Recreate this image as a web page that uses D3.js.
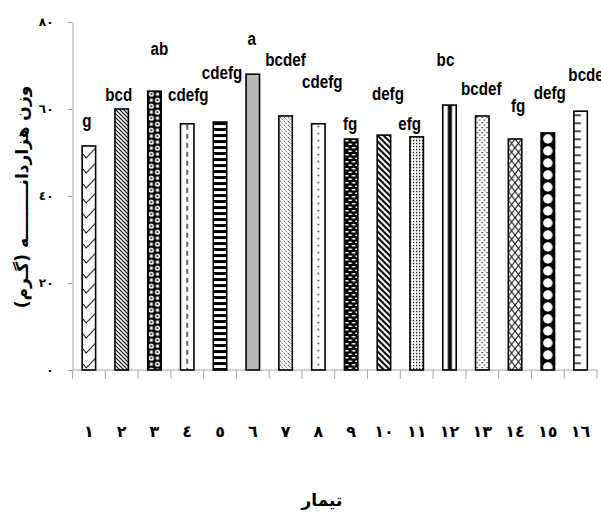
<!DOCTYPE html>
<html>
<head>
<meta charset="utf-8">
<script src="https://cdn.jsdelivr.net/npm/d3@7.9.0/dist/d3.min.js"></script>
<style>
  body { margin: 0; background: #fff; }
  svg { display: block; }
</style>
</head>
<body>
<svg id="chart" width="601" height="516"></svg>
<script>
// treatments (Persian digits), 1000-grain weight and Duncan groups
const treatments = ['١', '٢', '٣', '٤', '٥', '٦', '٧', '٨', '٩', '١٠', '١١', '١٢', '١٣', '١٤', '١٥', '١٦'];
const weights = [51.5, 60.0, 64.1, 56.6, 57.0, 68.0, 58.4, 56.6, 53.1, 54.0, 53.6, 60.9, 58.4, 53.1, 54.5, 59.5];
const groups = ['g', 'bcd', 'ab', 'cdefg', 'cdefg', 'a', 'bcdef', 'cdefg', 'fg', 'defg', 'efg', 'bc', 'bcdef', 'fg', 'defg', 'bcdef'];
const yTicks = [0, 20, 40, 60, 80];
const yTickLabels = ['٠', '٢٠', '٤٠', '٦٠', '٨٠'];

// the letters were placed by hand in the original, so nudge them (px)
const labelDx = [-2, -3, 5, 1, 2, -1, 0, 4, -1, 4, -7, -4, -1, 3, 2, 8];
const labelDy = [-19, -8, -36, -23, -43, -29, -50, -36, -9, -35, -7, -39, -21, -27, -34, -30];

const svg = d3.select('#chart');
const x = d3.scaleBand().domain(treatments).range([72.5, 597]);
const y = d3.scaleLinear().domain([0, 80]).range([370, 22]);
const barW = x.bandwidth() * 0.41;
const barX = d => x(d) + (x.bandwidth() - barW) / 2;

const defs = svg.append('defs');

// one fill pattern per bar, roughly like the old Excel pattern fills
const patternFns = [
  (p, w) => { p.attr('width', w).attr('height', 15);
    p.append('path').attr('d', `M1,8 L4,12 L${w},2`).attr('stroke', '#000').attr('stroke-width', 1).attr('fill', 'none'); },
  (p) => { p.attr('width', 4).attr('height', 4);
    p.append('path').attr('d', 'M-1,-1 L5,5 M-1,3 L1,5 M3,-1 L5,1').attr('stroke', '#000').attr('stroke-width', 1.1); },
  (p, w) => { p.attr('width', w).attr('height', 12);
    p.append('rect').attr('width', w).attr('height', 12).attr('fill', '#000');
    [[w * 0.27, 3], [w * 0.73, 9]].forEach(([cx, cy]) => {
      p.append('circle').attr('cx', cx).attr('cy', cy).attr('r', 2.6).attr('fill', '#fff');
      p.append('circle').attr('cx', cx).attr('cy', cy).attr('r', 1).attr('fill', '#000');
    });
    [[w * 0.73, 3], [w * 0.27, 9]].forEach(([cx, cy]) => {
      p.append('rect').attr('x', cx - 1.5).attr('y', cy - 1.5).attr('width', 3).attr('height', 3).attr('fill', '#fff');
    }); },
  (p, w) => { p.attr('width', w).attr('height', 9);
    p.append('rect').attr('x', w / 2 - 0.6).attr('y', 1).attr('width', 1.2).attr('height', 5).attr('fill', '#000'); },
  (p, w) => { p.attr('width', w).attr('height', 6);
    p.append('rect').attr('y', 0).attr('width', w).attr('height', 3).attr('fill', '#000'); },
  (p, w) => { p.attr('width', w).attr('height', 10);
    p.append('rect').attr('width', w).attr('height', 10).attr('fill', '#b9b9b9'); },
  (p) => { p.attr('width', 4).attr('height', 4);
    p.append('path').attr('d', 'M-1,-1 L5,5 M-1,3 L1,5 M3,-1 L5,1').attr('stroke', '#222').attr('stroke-width', 1).attr('stroke-dasharray', '1.5,1'); },
  (p, w) => { p.attr('width', w).attr('height', 7);
    p.append('rect').attr('x', w / 2 - 0.7).attr('y', 2).attr('width', 1.4).attr('height', 1.4).attr('fill', '#000'); },
  (p) => { p.attr('width', 7).attr('height', 7);
    p.append('rect').attr('width', 7).attr('height', 7).attr('fill', '#000');
    p.append('rect').attr('x', 0.5).attr('y', 1).attr('width', 3.5).attr('height', 1.5).attr('fill', '#fff');
    p.append('rect').attr('x', 4).attr('y', 4.5).attr('width', 3.5).attr('height', 1.5).attr('fill', '#fff');
    p.append('rect').attr('x', -3).attr('y', 4.5).attr('width', 3.5).attr('height', 1.5).attr('fill', '#fff'); },
  (p) => { p.attr('width', 6).attr('height', 6);
    p.append('path').attr('d', 'M-1,-1 L7,7 M-1,5 L1,7 M5,-1 L7,1').attr('stroke', '#000').attr('stroke-width', 2); },
  (p) => { p.attr('width', 3).attr('height', 3);
    p.append('rect').attr('width', 1.3).attr('height', 1.3).attr('fill', '#000'); },
  (p, w) => { p.attr('width', w).attr('height', 10);
    p.append('rect').attr('x', w * 0.38).attr('width', 4).attr('height', 10).attr('fill', '#000'); },
  (p) => { p.attr('width', 5).attr('height', 5);
    p.append('rect').attr('x', 1).attr('y', 1).attr('width', 1.2).attr('height', 1.2).attr('fill', '#000');
    p.append('rect').attr('x', 3.5).attr('y', 3.5).attr('width', 1.2).attr('height', 1.2).attr('fill', '#000'); },
  (p, w) => { const h = w / 2 * 1.3; p.attr('width', w / 2).attr('height', h);
    p.append('path').attr('d', `M0,0 L${w / 2},${h} M${w / 2},0 L0,${h}`).attr('stroke', '#000').attr('stroke-width', 1); },
  (p, w) => { p.attr('width', w).attr('height', 12);
    p.append('rect').attr('width', w).attr('height', 12).attr('fill', '#000');
    p.append('circle').attr('cx', w / 2).attr('cy', 6).attr('r', w / 2 - 2).attr('fill', '#fff'); },
  (p, w) => { p.attr('width', w).attr('height', 8);
    p.append('rect').attr('y', 3.4).attr('width', 7).attr('height', 1.3).attr('fill', '#000'); }
];

treatments.forEach((t, i) => {
  const p = defs.append('pattern')
    .attr('id', 'pat' + i)
    .attr('patternUnits', 'userSpaceOnUse')
    .attr('x', barX(t))
    .attr('y', y(weights[i]));
  patternFns[i](p, barW);
});

// y axis
const yAxis = svg.append('g')
  .attr('transform', 'translate(72.5,0)')
  .call(d3.axisLeft(y).tickValues(yTicks).tickSize(5).tickSizeOuter(0)
    .tickFormat((d, i) => yTickLabels[i]));
yAxis.select('.domain').attr('stroke', '#a8a8a8');
yAxis.selectAll('.tick line').attr('stroke', '#a8a8a8');
yAxis.selectAll('.tick text')
  .attr('x', -19)
  .attr('font-family', 'DejaVu Sans')
  .attr('font-weight', 'bold')
  .attr('font-size', 12)
  .attr('fill', '#000');

// category axis: baseline and ticks between categories
const [x0, x1] = x.range();
svg.append('line')
  .attr('x1', x0).attr('x2', x1)
  .attr('y1', y(0)).attr('y2', y(0))
  .attr('stroke', '#a8a8a8');
svg.append('g').selectAll('line')
  .data(treatments.map(t => x(t)).concat([x1]))
  .enter().append('line')
  .attr('x1', d => d).attr('x2', d => d)
  .attr('y1', y(0)).attr('y2', y(0) + 9)
  .attr('stroke', '#a8a8a8');

// bars
svg.append('g').selectAll('rect')
  .data(treatments)
  .enter().append('rect')
  .attr('x', d => barX(d))
  .attr('y', (d, i) => y(weights[i]))
  .attr('width', barW)
  .attr('height', (d, i) => y(0) - y(weights[i]))
  .attr('fill', (d, i) => `url(#pat${i})`)
  .attr('stroke', '#000')
  .attr('stroke-width', 1.6);

// group letters (condensed bold, like Arial Narrow)
svg.append('g').selectAll('text')
  .data(treatments)
  .enter().append('text')
  .attr('transform', (d, i) =>
    `translate(${x(d) + x.bandwidth() / 2 + labelDx[i]},${y(weights[i]) + labelDy[i]}) scale(0.8,1)`)
  .attr('text-anchor', 'middle')
  .attr('font-family', 'Liberation Sans, Arial, sans-serif')
  .attr('font-weight', 'bold')
  .attr('font-size', 19)
  .text((d, i) => groups[i]);

// treatment numbers
svg.append('g').selectAll('text')
  .data(treatments)
  .enter().append('text')
  .attr('x', d => x(d) + x.bandwidth() / 2)
  .attr('y', 437)
  .attr('text-anchor', 'middle')
  .attr('font-family', 'DejaVu Sans')
  .attr('font-weight', 'bold')
  .attr('font-size', 16)
  .text(d => d);

// axis titles
svg.append('text')
  .attr('x', 322).attr('y', 506)
  .attr('text-anchor', 'middle')
  .attr('direction', 'rtl')
  .attr('font-family', 'DejaVu Sans')
  .attr('font-weight', 'bold')
  .attr('font-size', 17)
  .text('تیمار');

svg.append('text')
  .attr('transform', 'translate(28,197) rotate(-90)')
  .attr('text-anchor', 'middle')
  .attr('direction', 'rtl')
  .attr('font-family', 'DejaVu Sans')
  .attr('font-weight', 'bold')
  .attr('font-size', 17)
  .text('وزن هزاردانـــــــــه (گـرم)');
</script>
</body>
</html>
